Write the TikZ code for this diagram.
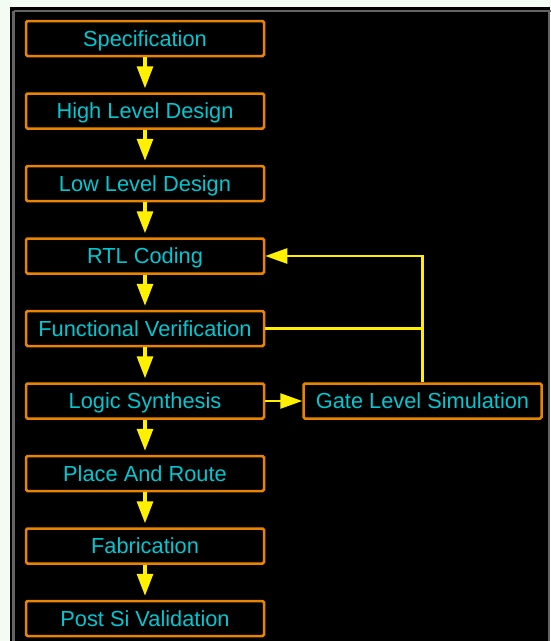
\documentclass[tikz,border=0pt]{standalone}
\usepackage{fontspec}
\setmainfont{Liberation Sans}
\usetikzlibrary{arrows.meta,positioning,calc}
\definecolor{pagebg}{RGB}{242,252,242}
\definecolor{panelrim}{RGB}{100,100,100}
\definecolor{boxedge}{RGB}{232,132,0}
\definecolor{label}{RGB}{0,200,210}
\definecolor{flow}{RGB}{255,240,0}
\begin{document}
\begin{tikzpicture}[x=1pt,y=-1pt,
  stage/.style={draw=boxedge, line width=2.5pt, rounded corners=1.5pt,
    minimum width=238pt, minimum height=35pt, inner sep=0pt,
    text height=15.6pt, text depth=0pt,
    text=label, font=\fontsize{21.8}{24}\selectfont},
  down/.style={draw=flow, line width=3.2pt, shorten >=4pt,
    -{Triangle[width=16pt,length=22pt]}},
  side/.style={draw=flow, line width=2.5pt,
    -{Triangle[width=15pt,length=22pt]}},
  wire/.style={draw=flow, line width=2.5pt}]
  % page and dark panel
  \useasboundingbox (0,0) rectangle (550,641);
  \fill[pagebg] (0,0) rectangle (550,641);
  \fill[black] (10,7) rectangle (550,645);
  \draw[panelrim, line width=2.5pt] (13.5,11) -- (13.5,645);
  \draw[panelrim, line width=2.5pt] (13.5,11) -- (552,11);
  \draw[panelrim, line width=1.5pt] (549,11) -- (549,645);

  % design flow stages
  \node[stage] (spec) at (145,38.5)  {Specification};
  \node[stage] (hld)  at (145,111)   {High Level Design};
  \node[stage] (lld)  at (145,183.5) {Low Level Design};
  \node[stage] (rtl)  at (145,256)   {RTL Coding};
  \node[stage] (fv)   at (145,328.5) {Functional Verification};
  \node[stage] (ls)   at (145,401)   {Logic Synthesis};
  \node[stage] (par)  at (145,473.5) {Place And Route};
  \node[stage] (fab)  at (145,546)   {Fabrication};
  \node[stage] (psv)  at (145,618.5) {Post Si Validation};
  \node[stage] (gls)  at (422.5,401) {Gate Level Simulation};

  % main flow
  \draw[down] (spec.south) -- (hld.north);
  \draw[down] (hld.south) -- (lld.north);
  \draw[down] (lld.south) -- (rtl.north);
  \draw[down] (rtl.south) -- (fv.north);
  \draw[down] (fv.south) -- (ls.north);
  \draw[down] (ls.south) -- (par.north);
  \draw[down] (par.south) -- (fab.north);
  \draw[down] (fab.south) -- (psv.north);

  % gate level simulation and feedback loop
  \draw[side] (ls.east) -- (gls.west);
  \draw[side] (gls.north) |- (rtl.east);
  \draw[wire] (fv.east) -- (fv.east -| gls.north);
\end{tikzpicture}
\end{document}
